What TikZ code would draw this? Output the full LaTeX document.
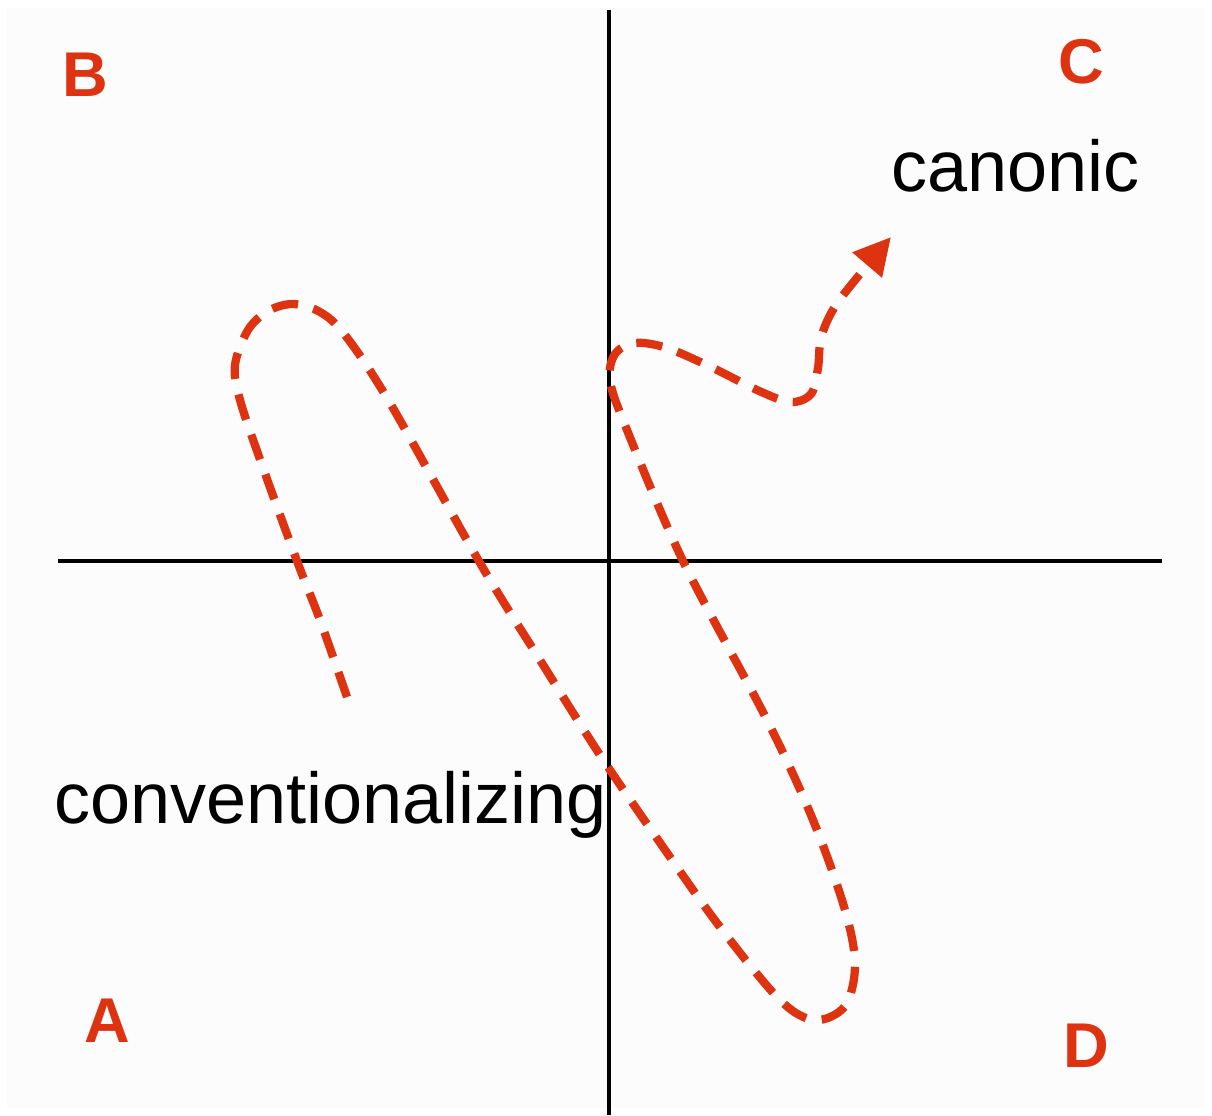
\documentclass[tikz,border=0pt]{standalone}
\usepackage{fontspec}
\setmainfont{Liberation Sans}
\usetikzlibrary{arrows.meta}
\definecolor{pathred}{RGB}{221,51,17}

\begin{document}
\begin{tikzpicture}[x=0.02cm,y=-0.02cm,>=Stealth]
\tikzstyle{corner}=[text=pathred,font=\fontsize{36}{40}\selectfont\bfseries,inner sep=0pt]
\tikzstyle{word}=[font=\fontsize{41}{48}\selectfont,inner sep=0pt,anchor=base west]
\tikzstyle{axis}=[line width=2.2pt]
\tikzstyle{route}=[pathred,line width=4.7pt,dash pattern=on 15pt off 9pt]
\useasboundingbox (0,0) rectangle (1212,1115);
\fill[black!1] (7,8) rectangle (1205,1108);
% axes
\coordinate (ytop) at (609,10); \coordinate (ybot) at (609,1115);
\coordinate (xleft) at (58,561); \coordinate (xright) at (1162,561);
\draw[axis] (ytop) -- (ybot);
\draw[axis] (xleft) -- (xright);
% quadrant letters
\node[corner] (qb) at (85,75) {B};
\node[corner] (qc) at (1081,62) {C};
\node[corner] (qa) at (107,1021) {A};
\node[corner] (qd) at (1086,1046) {D};
% labels
\node[word] (canon) at (891,191) {canonic};
\node[word] (conv) at (54,823) {conventionalizing};
% the route
\draw[route,-{Triangle[length=21pt,width=21pt]}] plot[smooth,tension=0.55] coordinates {
  (347,697) (320,620) (297,561) (262,465) (240,400) (235,365) (248,330) (268,311)
  (293,304) (320,312) (345,335) (390,403) (480,563) (540,660) (600,755) (663,847)
  (720,927) (780,1000) (815,1020) (845,1006) (855,965) (845,910) (813,820) (767,720)
  (683,561) (625,425) (610,380) (615,354) (635,343) (667,348) (713,368) (757,390)
  (790,402) (811,394) (818,368) (821,338) (834,308) (860,274) (891,237)};
\end{tikzpicture}
\end{document}
